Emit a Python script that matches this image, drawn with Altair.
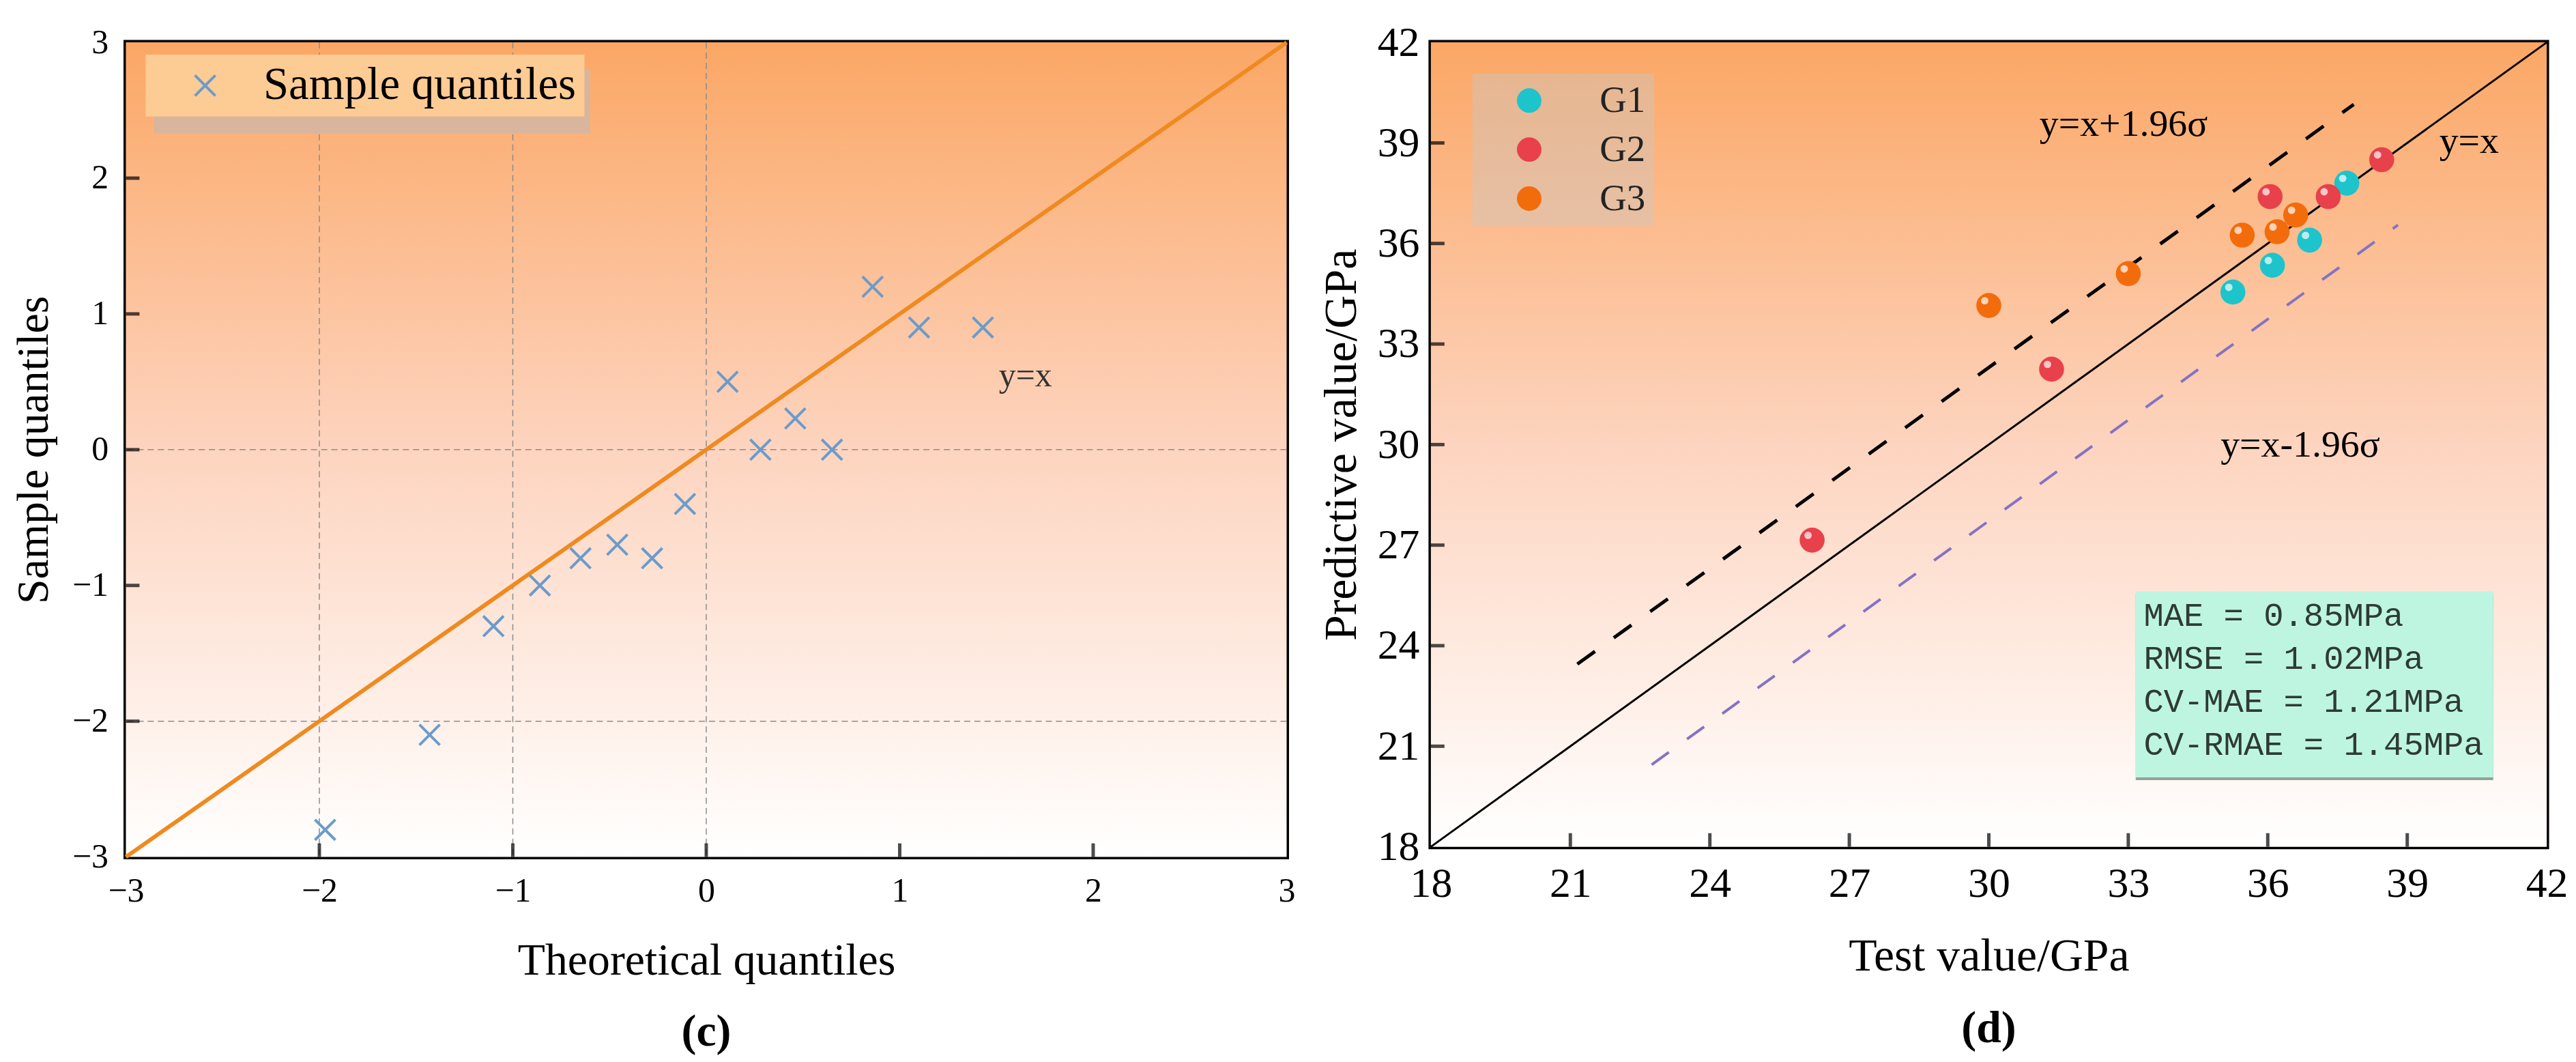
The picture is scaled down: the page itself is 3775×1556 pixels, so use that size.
import altair as alt
import pandas as pd

# ---- panel (c): Q-Q plot ----
theo_q = [-1.97, -1.43, -1.10, -0.86, -0.65, -0.46, -0.28, -0.11,
          0.11, 0.28, 0.46, 0.65, 0.86, 1.10, 1.43]
sample_q = [-2.8, -2.1, -1.3, -1.0, -0.8, -0.7, -0.8, -0.4,
            0.5, 0.0, 0.23, 0.0, 1.2, 0.9, 0.9]
qq_ticks = [-3, -2, -1, 0, 1, 2, 3]
qq_inner = [-2, -1, 0, 1, 2]
qq_grid_x = [-2, -1, 0]
qq_grid_y = [-2, 0]
qq_line = [-3, 3]

# ---- panel (d): predicted vs test ----
g1_test = [35.25, 36.1, 36.9, 37.7]
g1_pred = [34.55, 35.35, 36.1, 37.8]
g2_test = [26.2, 31.35, 36.05, 37.3, 38.45]
g2_pred = [27.15, 32.25, 37.4, 37.4, 38.5]
g3_test = [30.0, 33.0, 35.45, 36.2, 36.6]
g3_pred = [34.15, 35.1, 36.25, 36.35, 36.85]
groups = ["G1", "G2", "G3"]
group_colors = ["#1DC4CB", "#E8414B", "#F36C0C"]
pv_ticks = [18, 21, 24, 27, 30, 33, 36, 39, 42]
pv_inner = [21, 24, 27, 30, 33, 36, 39]
ident = [18, 42]
upper_x = [21.15, 37.85]
upper_y = [23.45, 40.15]
lower_x = [22.75, 38.8]
lower_y = [20.45, 36.55]
stats = ["MAE = 0.85MPa", "RMSE = 1.02MPa", "CV-MAE = 1.21MPa", "CV-RMAE = 1.45MPa"]

SERIF = "Liberation Serif"

bg_fill = alt.Gradient(
    gradient="linear",
    stops=[alt.GradientStop(color="#FBA765", offset=0),
           alt.GradientStop(color="#FDD4BF", offset=0.5),
           alt.GradientStop(color="#FFFFFF", offset=1)],
    x1=0, x2=0, y1=0, y2=1,
)


def axis(title, values, label_size, title_size, label_pad, title_pad):
    return alt.Axis(values=values, format="d", title=title, ticks=False, domain=False, grid=False,
                    labelFlush=False, labelOverlap=False, labelFont=SERIF,
                    labelFontSize=label_size, labelColor="black", labelPadding=label_pad,
                    titleFont=SERIF, titleFontSize=title_size, titleFontWeight="normal",
                    titleColor="black", titlePadding=title_pad)


# ================= (c) =================
qs = alt.Scale(domain=[-3, 3], nice=False, zero=False)
qx = alt.X("x:Q", scale=qs, axis=axis("Theoretical quantiles", qq_ticks, 50, 66, 25, 45))
qy = alt.Y("y:Q", scale=qs, axis=axis("Sample quantiles", qq_ticks, 50, 66, 26, 22))

bg_c = alt.Chart(pd.DataFrame({"x": [-3], "x2": [3], "y": [-3], "y2": [3]})).mark_rect(
    fill=bg_fill).encode(x=qx, x2="x2:Q", y=qy, y2="y2:Q")

grid_vx = alt.Chart(pd.DataFrame({"x": qq_grid_x})).mark_rule(
    color="#8C8C8C", strokeWidth=1.5, strokeDash=[9, 6]).encode(x=qx)
grid_hy = alt.Chart(pd.DataFrame({"y": qq_grid_y})).mark_rule(
    color="#8C8C8C", strokeWidth=1.5, strokeDash=[9, 6]).encode(y=qy)

# soft shadow under the legend box
leg_shadow = alt.Chart(pd.DataFrame({"x": [-2.855], "x2": [-0.6], "y": [2.80], "y2": [2.33]})).mark_rect(
    color="#D8B59C").encode(x=qx, x2="x2:Q", y=qy, y2="y2:Q")

diag_c = alt.Chart(pd.DataFrame({"x": qq_line, "y": qq_line})).mark_line(
    color="#EF8A20", strokeWidth=6).encode(x=qx, y=qy)

x_shape = "M -1 -1 L 1 1 M -1 1 L 1 -1"
pts_c = alt.Chart(pd.DataFrame({"x": theo_q, "y": sample_q,
                                "s": ["Sample quantiles"] * len(theo_q)})).mark_point(
    shape=x_shape, filled=False, size=900, strokeWidth=4, opacity=1).encode(
    x=qx, y=qy,
    color=alt.Color("s:N", scale=alt.Scale(domain=["Sample quantiles"], range=["#6B9BCB"]),
                    legend=alt.Legend(title=None, orient="none", legendX=29, legendY=18,
                                      fillColor="#FDCB94", padding=12, symbolOffset=42,
                                      labelOffset=52, symbolType=x_shape, symbolSize=900,
                                      symbolStrokeWidth=4, symbolFillColor="transparent",
                                      labelFont=SERIF, labelFontSize=67, labelColor="black",
                                      labelLimit=1000)),
)

tick_cx = alt.Chart(pd.DataFrame({"x": qq_inner})).mark_tick(
    orient="vertical", size=20, thickness=5, color="black", yOffset=-10).encode(
    x=qx, y=alt.datum(-3))
tick_cy = alt.Chart(pd.DataFrame({"y": qq_inner})).mark_tick(
    orient="horizontal", size=20, thickness=5, color="black", xOffset=10).encode(
    y=qy, x=alt.datum(-3))

lab_c = alt.Chart(pd.DataFrame({"x": [1.65], "y": [0.54], "t": ["y=x"]})).mark_text(
    font=SERIF, fontSize=50, color="#333333").encode(x=qx, y=qy, text="t:N")

chart_c = alt.layer(bg_c, grid_vx, grid_hy, leg_shadow, diag_c, pts_c, tick_cx, tick_cy, lab_c).properties(
    width=1706, height=1197,
    title=alt.TitleParams("(c)", orient="bottom", font=SERIF, fontSize=66, fontWeight="bold",
                          color="black", offset=40),
)

# ================= (d) =================
px_scale = alt.Scale(domain=[18, 42], nice=False, zero=False)
dx = alt.X("x:Q", scale=px_scale, axis=axis("Test value/GPa", pv_ticks, 62, 68, 24, 42))
dy = alt.Y("y:Q", scale=px_scale, axis=axis("Predictive value/GPa", pv_ticks, 62, 68, 17, 18))

bg_d = alt.Chart(pd.DataFrame({"x": [18], "x2": [42], "y": [18], "y2": [42]})).mark_rect(
    fill=bg_fill).encode(x=dx, x2="x2:Q", y=dy, y2="y2:Q")

diag_d = alt.Chart(pd.DataFrame({"x": ident, "y": ident})).mark_line(
    color="black", strokeWidth=3).encode(x=dx, y=dy)
upper = alt.Chart(pd.DataFrame({"x": upper_x, "y": upper_y})).mark_line(
    color="black", strokeWidth=5, strokeDash=[32, 34]).encode(x=dx, y=dy)
lower = alt.Chart(pd.DataFrame({"x": lower_x, "y": lower_y})).mark_line(
    color="#8572C2", strokeWidth=4, strokeDash=[31, 33]).encode(x=dx, y=dy)

pts_df = pd.DataFrame({
    "x": g1_test + g2_test + g3_test,
    "y": g1_pred + g2_pred + g3_pred,
    "g": ["G1"] * len(g1_test) + ["G2"] * len(g2_test) + ["G3"] * len(g3_test),
})
balls = alt.Chart(pts_df).mark_circle(size=1350, opacity=1).encode(
    x=dx, y=dy,
    color=alt.Color("g:N", scale=alt.Scale(domain=groups, range=group_colors),
                    legend=alt.Legend(title=None, orient="none", legendX=61, legendY=46,
                                      fillColor="rgba(200,200,200,0.4)", padding=12,
                                      symbolOffset=44, labelOffset=76, symbolType="circle",
                                      symbolSize=1300, symbolStrokeWidth=0, rowPadding=16,
                                      labelFont=SERIF, labelFontSize=55, labelColor="#222222")),
)
shine = alt.Chart(pts_df).mark_circle(size=120, color="white", opacity=0.7,
                                      xOffset=-6, yOffset=-7).encode(x=dx, y=dy)

box_shadow = alt.Chart(pd.DataFrame({"x": [33.16], "x2": [40.85], "y": [25.62], "y2": [20.07]})).mark_rect(
    color="#8DA39B", yOffset=4, y2Offset=4).encode(x=dx, x2="x2:Q", y=dy, y2="y2:Q")
box = alt.Chart(pd.DataFrame({"x": [33.16], "x2": [40.85], "y": [25.62], "y2": [20.07]})).mark_rect(
    color="#BEF5E1").encode(x=dx, x2="x2:Q", y=dy, y2="y2:Q")
box_text = alt.Chart(pd.DataFrame({"x": [33.33], "y": [25.38]})).mark_text(
    text=stats, font="Liberation Mono", fontSize=49, lineHeight=63, align="left",
    baseline="top", color="#2E3B35").encode(x=dx, y=dy)

tick_dx = alt.Chart(pd.DataFrame({"x": pv_inner})).mark_tick(
    orient="vertical", size=20, thickness=5, color="black", yOffset=-10).encode(
    x=dx, y=alt.datum(18))
tick_dy = alt.Chart(pd.DataFrame({"y": pv_inner})).mark_tick(
    orient="horizontal", size=20, thickness=5, color="black", xOffset=10).encode(
    y=dy, x=alt.datum(18))

lab_d = alt.Chart(pd.DataFrame({"x": [32.9, 36.7, 40.33], "y": [39.55, 29.98, 39.04],
                                "t": ["y=x+1.96σ", "y=x-1.96σ", "y=x"]})).mark_text(
    font=SERIF, fontSize=56, color="black").encode(x=dx, y=dy, text="t:N")

chart_d = alt.layer(bg_d, diag_d, upper, lower, box_shadow, box, box_text, balls, shine,
                    tick_dx, tick_dy, lab_d).properties(
    width=1640, height=1182,
    title=alt.TitleParams("(d)", orient="bottom", font=SERIF, fontSize=66, fontWeight="bold",
                          color="black", offset=40),
)

chart = alt.hconcat(chart_c, chart_d, spacing=27).resolve_scale(
    color="independent"
).properties(
    padding={"left": 5, "top": 17, "right": 0, "bottom": 0}
).configure_view(stroke="black", strokeWidth=7)

chart.save("out.html", embed_options={"renderer": "svg", "actions": False})
